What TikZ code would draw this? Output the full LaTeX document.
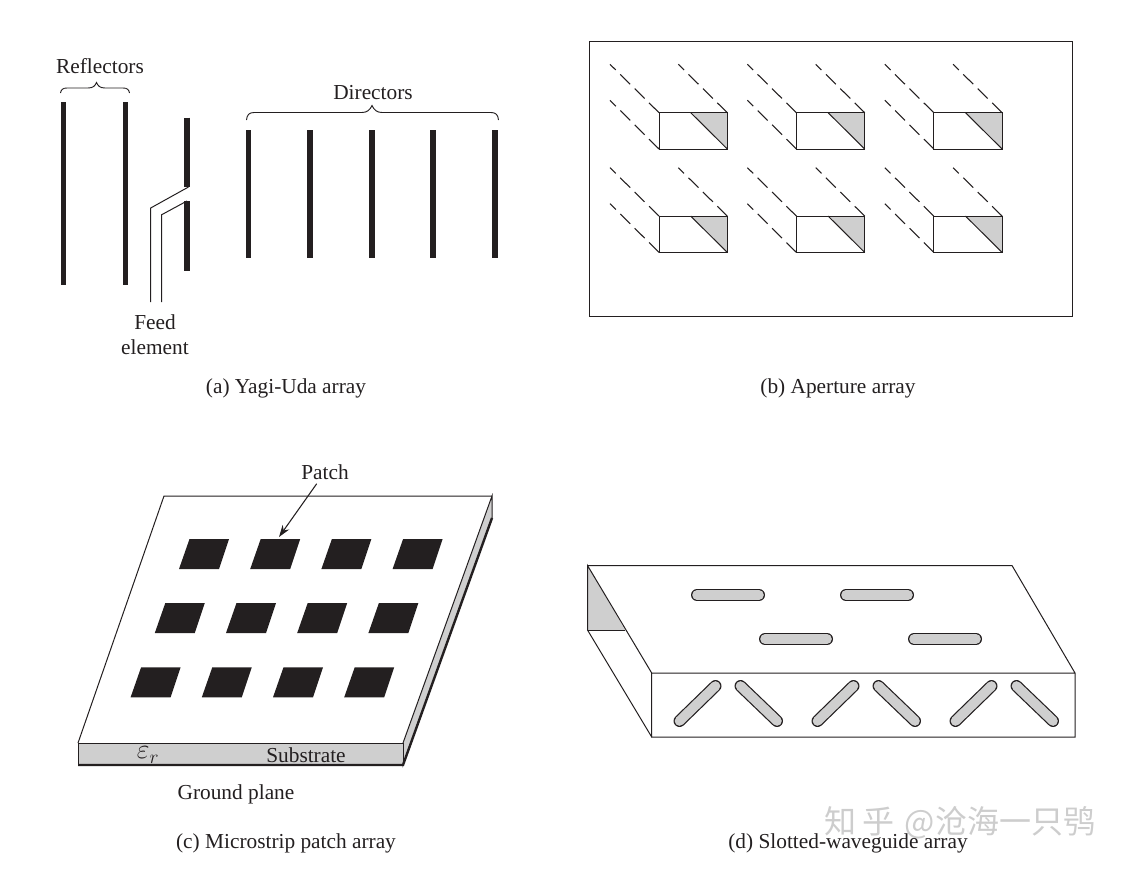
\documentclass[tikz,border=0pt]{standalone}
\usepackage{fontspec}
\setmainfont{Liberation Serif}
\newfontfamily\wmfont{Noto Sans CJK SC}
\usetikzlibrary{arrows.meta}
\definecolor{ink}{HTML}{231F20}
\definecolor{fillgray}{HTML}{CFCFCF}
\definecolor{wmgray}{HTML}{CDCDCD}
\tikzset{
  thinline/.style={draw=ink,line width=0.75pt,line join=miter},
  bar/.style={draw=ink,line width=3.9pt},
  dashline/.style={draw=ink,line width=0.8pt,dash pattern=on 10.5pt off 4.7pt},
  lbl/.style={font=\fontsize{16}{19}\selectfont,text=ink,inner sep=1pt},
  brace/.style={draw=ink,line width=0.7pt},
  slot/.style={draw=ink,line width=0.9pt,double=fillgray,double distance=7.2pt,line cap=round},
}
\begin{document}
\begin{tikzpicture}[x=0.75pt,y=-0.75pt]
\useasboundingbox (0,0) rectangle (1124,871);
% watermark
\node[font=\wmfont\fontsize{24}{28}\selectfont,text=wmgray,inner sep=0pt,anchor=west] (wm) at (824,823) {知\hspace{4.5pt}乎\hspace{8pt}@沧海一只鸮};

% ---------- (a) Yagi-Uda
\foreach \x/\t/\b in {63.7/102/285,125.3/102/285,187/117.5/187,187/201/271,248.7/130/257.7,310/130/257.7,372/130/257.7,433/130/257.7,495/130/257.7}
  \draw[bar] (\x,\t) -- (\x,\b);
\coordinate (feedA) at (150.7,302);
\coordinate (feedB) at (161.7,302);
\draw[thinline] (feedA) -- (150.7,208) -- (188.5,187);
\draw[thinline] (feedB) -- (161.7,214.7) -- (187,201);
\draw[brace] (60.5,93) .. controls (61,89.5) and (63,88) .. (67,88) -- (88,88) .. controls (93,88) and (95,86) .. (96.5,82.5) .. controls (98,86) and (100,88) .. (105,88) -- (123,88) .. controls (127,88) and (129,89.5) .. (129.5,93);
\draw[brace] (246.5,120) .. controls (247,115) and (249,112.5) .. (254,112.5) -- (362,112.5) .. controls (367,112.5) and (370,110) .. (372,105.5) .. controls (374,110) and (377,112.5) .. (382,112.5) -- (491,112.5) .. controls (496,112.5) and (498,115) .. (498.5,120);
\node[lbl] (reflectors) at (100,66.5) {Reflectors};
\node[lbl] (directors) at (373,93) {Directors};
\node[lbl] (feedlbl) at (155,322) {Feed};
\node[lbl] (elemlbl) at (155,347) {element};
\node[lbl] (capa) at (286,388) {(a) Yagi-Uda array};

% ---------- (b) Aperture
\draw[thinline] (589,41) rectangle (1072,316);
\foreach \cx in {0,137.4,274.8}
 \foreach \cy in {0,103.4} {
  \begin{scope}[shift={(\cx*0.75pt,-\cy*0.75pt)}]
   \fill[fillgray] (690.7,112.7) -- (727.3,112.7) -- (727.3,149) -- cycle;
   \draw[thinline] (659,112.7) rectangle (727.3,149);
   \draw[thinline] (690.7,112.7) -- (727.3,149);
   \draw[dashline] (659,112.7) -- (610,64.3);
   \draw[dashline] (659,149) -- (610,100.3);
   \draw[dashline] (727.3,112.7) -- (678.3,64.3);
  \end{scope}
 }
\node[lbl] (capb) at (838,388) {(b) Aperture array};

% ---------- (c) Microstrip
\draw[thinline,fill=fillgray] (403,743) -- (492,496) -- (492,518) -- (403,765) -- cycle;
\draw[thinline] (78,743) -- (164,496) -- (492,496);
\draw[thinline,fill=fillgray] (78,743) rectangle (403,765);
\draw[draw=ink,line width=1.8pt] (78,765) -- (403,765) -- (492,518);
\foreach \r/\yt in {0/539,1/603,2/667.3}
 \foreach \c in {0,1,2,3} {
  \pgfmathsetmacro{\xo}{179-24.2*\r+71.2*\c}
  \fill[ink] (\xo,\yt+30) -- (\xo+40,\yt+30) -- (\xo+50,\yt) -- (\xo+10.5,\yt) -- cycle;
 }
\node[lbl,inner sep=3pt] (patchlbl) at (325,472) {Patch};
\coordinate (patchtip) at (279,537);
\draw[draw=ink,line width=0.8pt,-{Stealth[length=9pt,width=6pt]}] (patchlbl) -- (patchtip);
\node[lbl] (eps) at (148,755) {\fontsize{20}{22}\selectfont$\varepsilon_r$};
\node[lbl] (subst) at (306,755.5) {Substrate};
\node[lbl] (ground) at (236,794) {Ground plane};
\node[lbl] (capc) at (286,843) {(c) Microstrip patch array};

% ---------- (d) Slotted waveguide
\fill[fillgray] (587.5,565.5) -- (587.5,630) -- (625,630) -- cycle;
\draw[thinline] (587.5,565.5) -- (1012,565.5) -- (1075,673) -- (1075,737) -- (651.7,737) -- (651.7,673) -- (1075,673);
\draw[thinline] (651.7,673) -- (587.5,565.5) -- (587.5,630) -- (651.7,737);
\draw[thinline] (587.5,630) -- (625,630);
\draw[slot] (697,595) -- (759,595);
\draw[slot] (846,595) -- (908,595);
\draw[slot] (765,639) -- (827,639);
\draw[slot] (914,639) -- (976,639);
\foreach \d in {0,138,276} {
  \draw[slot] (679.5+\d,721) -- (715.5+\d,686);
  \draw[slot] (740.5+\d,686) -- (777+\d,721);
}
\node[lbl] (capd) at (848,843) {(d) Slotted-waveguide array};
\end{tikzpicture}
\end{document}
